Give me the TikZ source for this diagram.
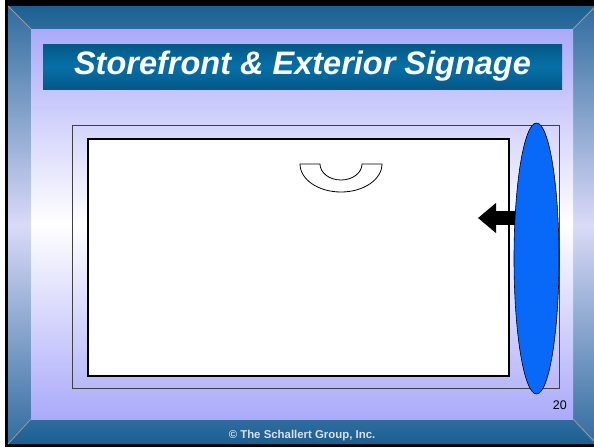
\documentclass[tikz,border=0pt]{standalone}
\usepackage{fontspec}
\setmainfont{Liberation Sans}
\usetikzlibrary{arrows.meta, shapes.geometric}

\definecolor{framedark}{RGB}{26,96,146}
\definecolor{framemid}{RGB}{48,108,158}
\definecolor{framelight}{RGB}{218,218,248}
\definecolor{slidelav}{RGB}{170,170,250}
\definecolor{bardark}{RGB}{3,88,134}
\definecolor{barlight}{RGB}{6,112,168}
\definecolor{signblue}{RGB}{8,104,248}
\definecolor{footgray}{RGB}{222,222,234}

\begin{document}
\begin{tikzpicture}[
    x=1pt, y=-1pt,
    titlebar/.style={
        rectangle,
        minimum width=519pt,
        minimum height=45pt,
        inner sep=0pt,
        top color=bardark,
        bottom color=bardark,
        middle color=barlight,
        text=white,
        font=\fontsize{32.5}{35}\selectfont\bfseries\itshape
    },
    storefront/.style={
        rectangle,
        draw=black!75,
        line width=0.8pt,
        inner sep=0pt
    },
    window/.style={
        rectangle,
        draw=black,
        fill=white,
        line width=1.3pt,
        inner sep=0pt
    },
    sign/.style={
        ellipse,
        draw=black,
        fill=signblue,
        line width=0.6pt,
        inner sep=0pt
    },
    bevelline/.style={
        draw=gray!80,
        line width=0.8pt
    }
]
\useasboundingbox (0,0) rectangle (594,447);

% ---------------- SLIDE FRAME ----------------
\fill[black] (5,0) rectangle (594,447);
\shade[top color=framedark, bottom color=framemid]
    (8,6) -- (594,6) -- (594,29) -- (31,29) -- cycle;
\shade[top color=framemid, bottom color=framedark]
    (31,419) -- (594,419) -- (594,444) -- (8,444) -- cycle;
\shade[top color=framemid, bottom color=framemid, middle color=framelight]
    (8,6) -- (31,29) -- (31,419) -- (8,444) -- cycle;
\shade[top color=framemid, bottom color=framemid, middle color=framelight]
    (594,6) -- (573,29) -- (573,419) -- (594,444) -- cycle;
\shade[top color=slidelav, bottom color=slidelav, middle color=white]
    (31,29) rectangle (573,419);

\draw[bevelline] (8,6)   -- (31,29);
\draw[bevelline] (594,8) -- (573,29);
\draw[bevelline] (8,444) -- (31,419);
\draw[bevelline] (594,441) -- (573,419);

% ---------------- TITLE ----------------
\node[titlebar] (title) at (302.5,66.5) {Storefront \& Exterior Signage};

% ---------------- STOREFRONT ----------------
\node[storefront, minimum width=487pt, minimum height=263pt] (front)  at (315.5,256.5) {};
\node[window,     minimum width=421pt, minimum height=237pt] (window) at (298.5,257.5) {};

% awning over the door
\draw[line width=0.8pt, fill=white] (300,164) -- (320,164)
    arc[start angle=180, end angle=0, x radius=21, y radius=16]
    -- (382,164)
    arc[start angle=0, end angle=180, x radius=41, y radius=28]
    -- cycle;

% Sign: pointer into the window
\coordinate (arrowstart) at (522,218);
\coordinate (arrowtip)   at (478,218);
\draw[line width=14pt, -{Triangle[length=18pt, width=29pt]}] (arrowstart) -- (arrowtip);

\node[sign, minimum width=45pt, minimum height=271pt] (signage) at (536.5,258.5) {};

% ---------------- FOOTER ----------------
\node[font=\fontsize{12.5}{14}\selectfont, anchor=base east, inner sep=0pt] (page) at (567,409) {20};
\node[font=\fontsize{11.4}{14}\selectfont\bfseries, text=footgray, anchor=base] (copyright) at (302,438) {© The Schallert Group, Inc.};

\end{tikzpicture}
\end{document}
